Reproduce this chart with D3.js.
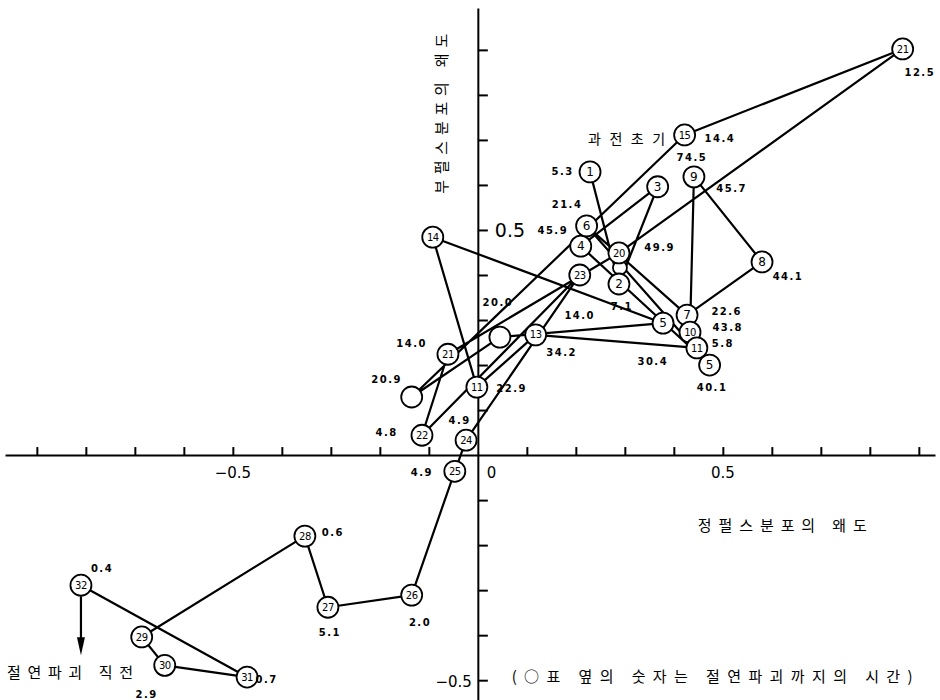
<!DOCTYPE html>
<html>
<head>
<meta charset="utf-8">
<script src="https://cdn.jsdelivr.net/npm/d3@7/dist/d3.min.js"></script>
<style>
  body { margin: 0; background: #fff; }
  svg { display: block; }
</style>
</head>
<body>
<svg id="chart" width="940" height="700"></svg>
<script>
// Measurement steps in time order: skewness of the positive-pulse distribution (x)
// against skewness of the negative-pulse distribution (y).
const stepText = ["1","2","3","4","5","6","7","8","9","10","11","13","11","14","5","","","15","21","20","21","22","23","24","25","26","27","28","29","30","31","32"];
const skewPos  = [0.229,0.288,0.367,0.210,0.473,0.222,0.427,0.580,0.441,0.433,0.447,0.118,-0.002,-0.092,0.378,0.045,-0.135,0.422,0.867,0.288,-0.061,-0.114,0.208,-0.024,-0.047,-0.135,-0.306,-0.353,-0.686,-0.639,-0.471,-0.810];
const skewNeg  = [0.629,0.380,0.596,0.464,0.200,0.509,0.311,0.429,0.618,0.273,0.238,0.267,0.151,0.484,0.293,0.262,0.129,0.711,0.902,0.449,0.224,0.044,0.400,0.033,-0.036,-0.311,-0.338,-0.180,-0.404,-0.467,-0.493,-0.289];

// Small junction ring where several traces cross
const ringX = [0.290];
const ringY = [0.416];

// Hours remaining until insulation breakdown, written beside the marks
const timeText = ["5.3","21.4","45.9","49.9","74.5","14.4","12.5","45.7","44.1","22.6","43.8","5.8","40.1","30.4","7.1","14.0","20.0","34.2","14.0","20.9","22.9","4.9","4.8","4.9","2.0","5.1","0.6","0.4","2.9","0.7"];
const timeX = [0.173,0.182,0.153,0.371,0.437,0.494,0.902,0.518,0.633,0.508,0.510,0.500,0.478,0.357,0.294,0.208,0.041,0.171,-0.135,-0.186,0.069,-0.037,-0.186,-0.114,-0.118,-0.302,-0.296,-0.767,-0.676,-0.431];
const timeY = [0.629,0.556,0.498,0.462,0.662,0.704,0.851,0.593,0.396,0.320,0.284,0.249,0.151,0.209,0.331,0.311,0.338,0.227,0.249,0.167,0.149,0.078,0.051,-0.038,-0.371,-0.393,-0.171,-0.251,-0.531,-0.498];

// Axis ticks every 0.1
const xTicks = [-0.9,-0.8,-0.7,-0.6,-0.5,-0.4,-0.3,-0.2,-0.1,0.1,0.2,0.3,0.4,0.5,0.6,0.7,0.8,0.9];
const yTicks = [-0.5,-0.4,-0.3,-0.2,-0.1,0.1,0.2,0.3,0.4,0.5,0.6,0.7,0.8,0.9];

const svg = d3.select("#chart");
const x = d3.scaleLinear().domain([-0.965, 0.933]).range([5, 935]);
const y = d3.scaleLinear().domain([0.993, -0.544]).range([8, 700]);

const kfont = "'Noto Sans CJK KR', 'Noto Sans', sans-serif";

// Axes crossing at the origin
const xAxis = svg.append("g")
  .attr("transform", `translate(0,${y(0)})`)
  .call(d3.axisTop(x).tickValues(xTicks).tickSize(8).tickSizeOuter(0).tickFormat(""));
const yAxis = svg.append("g")
  .attr("transform", `translate(${x(0)},0)`)
  .call(d3.axisRight(y).tickValues(yTicks).tickSize(10).tickSizeOuter(0).tickFormat(""));
[xAxis, yAxis].forEach(g => {
  g.selectAll("path, line").attr("stroke", "#000").attr("stroke-width", 2);
});

// Axis value labels
const axisText = svg.append("g").attr("font-family", "'DejaVu Sans', sans-serif").attr("fill", "#000");
axisText.append("text").attr("x", x(-0.5)).attr("y", y(0) + 23).attr("text-anchor", "middle")
  .attr("font-size", 15).text("\u22120.5");
axisText.append("text").attr("x", x(0) + 9).attr("y", y(0) + 23)
  .attr("font-size", 15).text("0");
axisText.append("text").attr("x", x(0.5)).attr("y", y(0) + 23).attr("text-anchor", "middle")
  .attr("font-size", 15).text("0.5");
axisText.append("text").attr("x", x(0) + 17).attr("y", y(0.5) + 7)
  .attr("font-size", 19).text("0.5");
axisText.append("text").attr("x", x(0) - 6).attr("y", y(-0.5) + 7).attr("text-anchor", "end")
  .attr("font-size", 15).text("\u22120.5");

// Trajectory in time order
const pts = skewPos.map((v, i) => [x(v), y(skewNeg[i])]);
svg.append("path")
  .attr("d", d3.line()(pts))
  .attr("fill", "none")
  .attr("stroke", "#000")
  .attr("stroke-width", 2.2)
  .attr("stroke-linejoin", "round");

// Arrow leading away from the final step
const last = pts[pts.length - 1];
svg.append("line")
  .attr("x1", last[0]).attr("y1", last[1] + 11)
  .attr("x2", last[0]).attr("y2", last[1] + 58)
  .attr("stroke", "#000").attr("stroke-width", 2.2);
svg.append("path")
  .attr("d", `M${last[0] - 4},${last[1] + 52} L${last[0] + 4},${last[1] + 52} L${last[0]},${last[1] + 70} Z`)
  .attr("fill", "#000");

// Junction ring
svg.selectAll("circle.ring").data(ringX).join("circle")
  .attr("class", "ring")
  .attr("cx", d => x(d)).attr("cy", (d, i) => y(ringY[i])).attr("r", 7)
  .attr("fill", "#fff").attr("stroke", "#000").attr("stroke-width", 1.8);

// Step markers
const marks = svg.append("g").selectAll("g").data(stepText).join("g")
  .attr("transform", (d, i) => `translate(${pts[i][0]},${pts[i][1]})`);
marks.append("circle")
  .attr("r", 10.5)
  .attr("fill", "#fff").attr("stroke", "#000").attr("stroke-width", 1.8);
marks.append("text")
  .attr("text-anchor", "middle").attr("dy", "0.36em")
  .attr("font-family", "'DejaVu Sans', sans-serif")
  .attr("font-size", d => d.length > 1 ? 10 : 12)
  .attr("letter-spacing", d => d.length > 1 ? -0.5 : 0)
  .attr("fill", "#000")
  .text(d => d);

// Time labels
svg.append("g").selectAll("text").data(timeText).join("text")
  .attr("x", (d, i) => x(timeX[i])).attr("y", (d, i) => y(timeY[i]))
  .attr("text-anchor", "middle").attr("dy", "0.36em")
  .attr("font-family", "'DejaVu Sans', sans-serif")
  .attr("font-weight", "bold").attr("font-size", 10)
  .attr("letter-spacing", 1.5)
  .attr("fill", "#000")
  .text(d => d);

// Titles and notes
svg.append("text").attr("x", x(0.225)).attr("y", y(0.702)).attr("dy", "0.36em")
  .attr("font-family", kfont).attr("font-size", 14)
  .attr("textLength", 77).attr("lengthAdjust", "spacing").text("과전초기");
svg.append("text").attr("x", x(0.449)).attr("y", y(-0.156)).attr("dy", "0.36em")
  .attr("font-family", kfont).attr("font-size", 15)
  .attr("textLength", 169).attr("lengthAdjust", "spacing").text("정펄스분포의 왜도");
svg.append("text")
  .attr("transform", `translate(${x(-0.073)},${y(0.758)}) rotate(-90)`)
  .attr("text-anchor", "middle").attr("dy", "0.36em")
  .attr("font-family", kfont).attr("font-size", 15)
  .attr("textLength", 160).attr("lengthAdjust", "spacing").text("부펄스분포의 왜도");
svg.append("text").attr("x", 7).attr("y", y(-0.484)).attr("dy", "0.36em")
  .attr("font-family", kfont).attr("font-size", 15)
  .attr("textLength", 126).attr("lengthAdjust", "spacing").text("절연파괴 직전");
svg.append("text").attr("x", x(0.069)).attr("y", y(-0.493)).attr("dy", "0.36em")
  .attr("font-family", kfont).attr("font-size", 15)
  .attr("textLength", 401).attr("lengthAdjust", "spacing").text("(○표 옆의 숫자는  절연파괴까지의 시간)");
</script>
</body>
</html>
